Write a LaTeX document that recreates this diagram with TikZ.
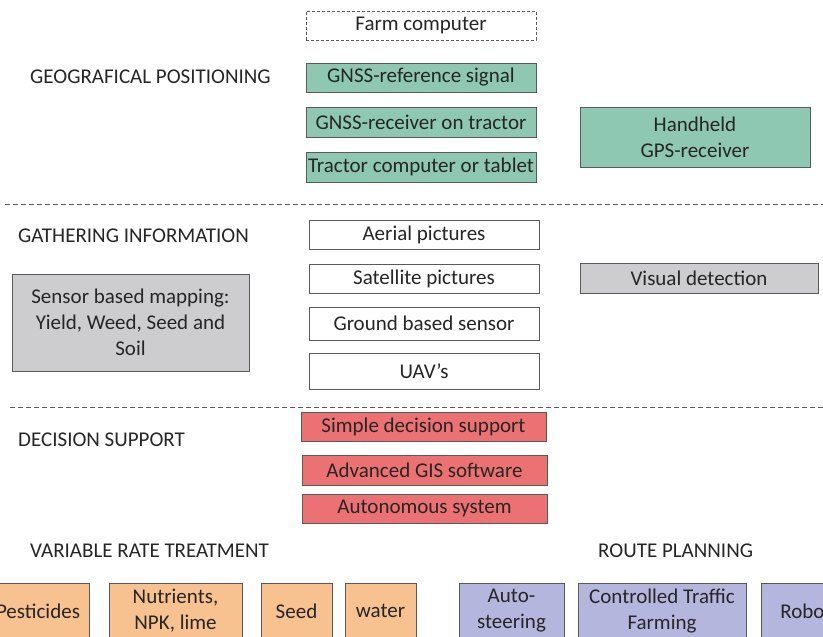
\documentclass[tikz,border=0pt]{standalone}
\usepackage{fontspec}
\setmainfont{Carlito}
\definecolor{grn}{HTML}{8EC8B2}
\definecolor{redb}{HTML}{EC7173}
\definecolor{orb}{HTML}{F7C28F}
\definecolor{pur}{HTML}{B5B6DE}
\definecolor{gry}{HTML}{CDCDCF}
\definecolor{txt}{HTML}{262626}
\definecolor{edge}{HTML}{5A5A5A}
\tikzset{
  box/.style={draw=edge, line width=0.9pt, inner sep=0pt, align=center, text=txt,
    font=\fontsize{21}{26}\selectfont},
  gbox/.style={box, fill=grn},
  rbox/.style={box, fill=redb},
  obox/.style={box, fill=orb},
  pbox/.style={box, fill=pur},
  greybox/.style={box, fill=gry},
  wbox/.style={box, fill=white},
  sect/.style={anchor=west, inner sep=0pt, text=txt, font=\fontsize{21}{26}\selectfont},
  sepline/.style={draw=edge, line width=0.9pt, dash pattern=on 5pt off 3pt}
}
\begin{document}
\begin{tikzpicture}[x=1pt,y=-1pt]
\useasboundingbox (0,0) rectangle (823,637);
\clip (0,0) rectangle (823,637);
% separators
\coordinate (s1a) at (5,204); \coordinate (s1b) at (823,204);
\coordinate (s2a) at (10,407); \coordinate (s2b) at (823,407);
\draw[sepline] (s1a) -- (s1b);
\draw[sepline] (s2a) -- (s2b);
% section labels
\node[sect] (lgeo) at (30,77) {GEOGRAFICAL POSITIONING};
\node[sect] (lgat) at (18,236) {GATHERING INFORMATION};
\node[sect] (ldec) at (18,440) {DECISION SUPPORT};
\node[sect] (lvrt) at (30,551) {VARIABLE RATE TREATMENT};
\node[sect] (lrte) at (598,551) {ROUTE PLANNING};
% positioning
\node[wbox, dashed, dash pattern=on 3pt off 2pt, minimum width=230pt, minimum height=29pt] (farm) at (421,25.5) {Farm computer};
\node[gbox, minimum width=230pt, minimum height=29pt] (gref) at (421,77.5) {GNSS-reference signal};
\node[gbox, minimum width=230pt, minimum height=30pt] (grec) at (421,122) {GNSS-receiver on tractor};
\node[gbox, minimum width=230pt, minimum height=30pt] (tab) at (421,167) {Tractor computer or tablet};
\node[gbox, minimum width=230pt, minimum height=60pt] (hand) at (695,137) {Handheld\\GPS-receiver};
% gathering
\node[wbox, minimum width=230pt, minimum height=29pt] (aer) at (424,234.5) {Aerial pictures};
\node[wbox, minimum width=230pt, minimum height=29pt] (sat) at (424,278.5) {Satellite pictures};
\node[wbox, minimum width=230pt, minimum height=33pt] (gro) at (424,323.5) {Ground based sensor};
\node[wbox, minimum width=230pt, minimum height=36pt] (uav) at (424,371) {UAV’s};
\node[greybox, minimum width=238pt, minimum height=30pt] (vis) at (699,278) {Visual detection};
\node[greybox, minimum width=237pt, minimum height=97pt] (sens) at (130.5,322.5) {Sensor based mapping:\\Yield, Weed, Seed and\\Soil};
% decision
\node[rbox, minimum width=245pt, minimum height=29pt] (simp) at (423.5,426.5) {Simple decision support};
\node[rbox, minimum width=245pt, minimum height=30pt] (gis) at (424.5,470) {Advanced GIS software};
\node[rbox, minimum width=245pt, minimum height=29pt] (aut) at (424.5,508.5) {Autonomous system};
% variable rate
\node[obox, minimum width=102pt, minimum height=56pt] (pest) at (38,611) {Pesticides};
\node[obox, minimum width=133pt, minimum height=56pt] (nutr) at (175.5,611) {Nutrients,\\NPK, lime};
\node[obox, minimum width=71pt, minimum height=56pt] (seed) at (296.5,611) {Seed};
\node[obox, minimum width=71pt, minimum height=56pt] (wat) at (380.5,611) {water};
% route planning
\node[pbox, minimum width=105pt, minimum height=56pt] (ast) at (511.5,611) {Auto-\\steering};
\node[pbox, minimum width=168pt, minimum height=56pt] (ctf) at (662,611) {Controlled Traffic\\Farming};
\node[pbox, minimum width=98pt, minimum height=56pt] (rob) at (810,611) {Robots};
\end{tikzpicture}
\end{document}
